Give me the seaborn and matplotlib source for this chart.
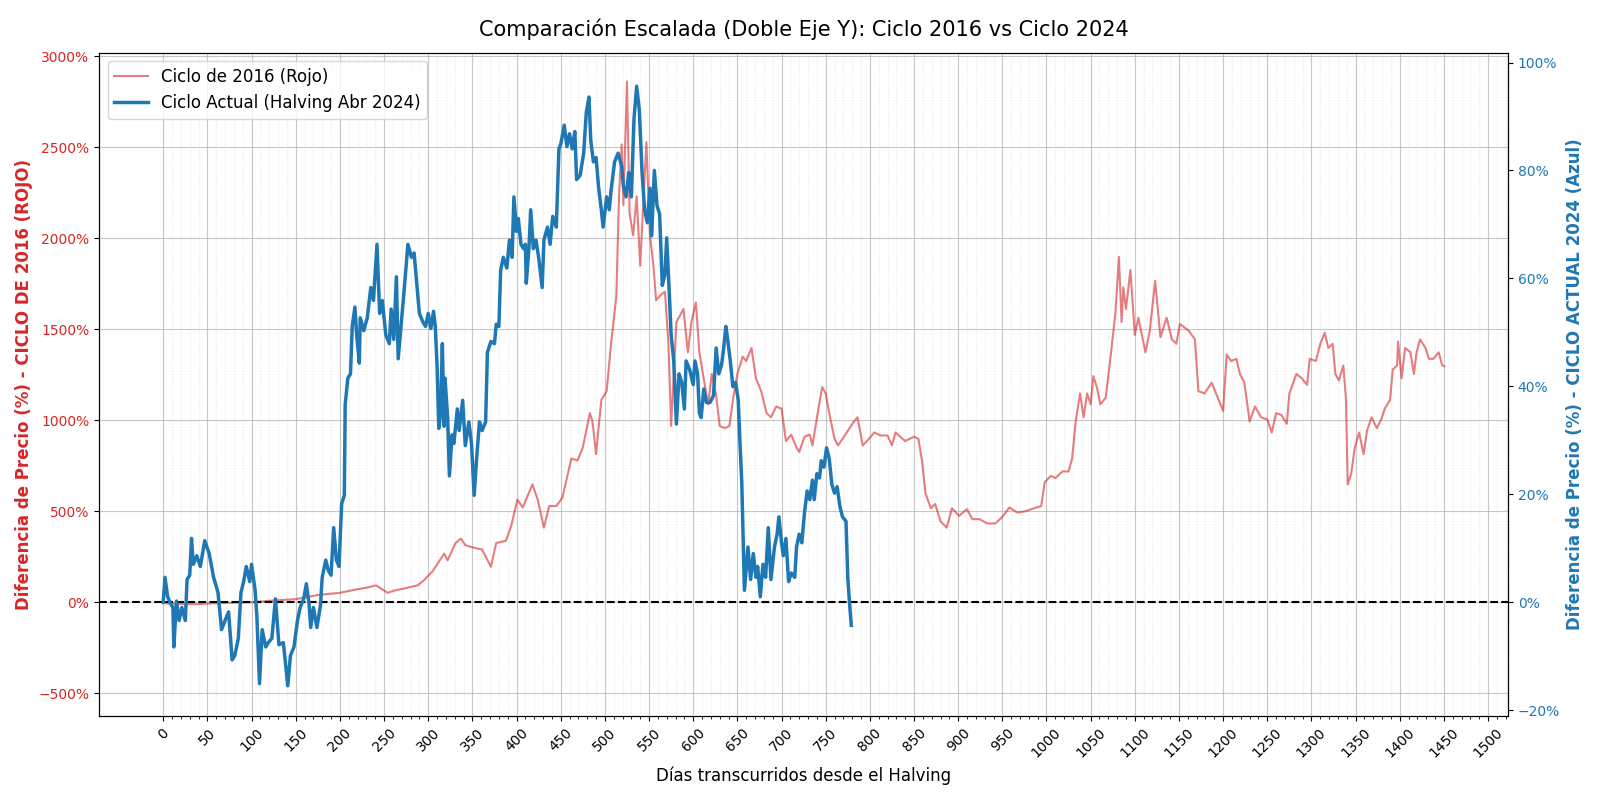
import matplotlib
matplotlib.use("Agg")
import matplotlib.pyplot as plt
import matplotlib.ticker as mtick
import seaborn as sns
import pandas as pd

# Ciclo 2016 (eje izquierdo)
dias_2016 = [0, 10, 25, 40, 50, 75, 100, 125, 150, 175, 200, 218, 230, 241, 254, 262, 273, 288, 295,
             305, 318, 322, 331, 337, 342, 350, 361, 371, 377, 388, 394, 401, 407, 418, 424, 431, 437,
             445, 452, 462, 469, 475, 483, 486, 490, 496, 502, 507, 513, 516, 519, 521, 525, 528, 532,
             536, 540, 543, 547, 551, 555, 558, 562, 568, 572, 575, 581, 589, 594, 598, 603, 607, 611,
             617, 621, 626, 630, 636, 641, 645, 650, 656, 660, 666, 671, 677, 683, 688, 694, 700, 705,
             711, 717, 720, 726, 732, 735, 741, 746, 750, 754, 760, 764, 769, 777, 782, 786, 792, 799,
             805, 812, 820, 825, 829, 840, 850, 855, 859, 863, 869, 874, 880, 887, 893, 901, 910, 916,
             924, 933, 942, 950, 958, 967, 976, 986, 994, 998, 1005, 1010, 1018, 1025, 1029, 1033, 1038,
             1042, 1046, 1050, 1053, 1057, 1061, 1067, 1072, 1078, 1082, 1085, 1087, 1090, 1095, 1100,
             1104, 1112, 1117, 1123, 1129, 1136, 1142, 1147, 1151, 1161, 1168, 1172, 1179, 1187, 1194,
             1200, 1204, 1209, 1215, 1219, 1224, 1230, 1236, 1243, 1250, 1255, 1260, 1266, 1272, 1275,
             1283, 1289, 1295, 1298, 1305, 1310, 1315, 1319, 1324, 1327, 1331, 1336, 1339, 1341, 1345,
             1349, 1354, 1359, 1363, 1368, 1374, 1379, 1383, 1389, 1392, 1397, 1398, 1402, 1406, 1412,
             1416, 1419, 1423, 1429, 1433, 1438, 1444, 1448, 1450]
precio_2016 = [-5, -8, -10, -10, -7, -3, 0, 10, 17, 40, 52, 70, 80, 93, 52, 65, 76, 93, 120,
               171, 267, 231, 326, 350, 314, 302, 290, 195, 326, 338, 421, 564, 521, 648, 564, 410, 529,
               529, 576, 790, 779, 850, 1040, 993, 814, 1112, 1160, 1421, 1683, 2231, 2517, 2183, 2862,
               2136, 2017, 2231, 1850, 2136, 2529, 2017, 1850, 1660, 1683, 1707, 1421, 969, 1540, 1612,
               1374, 1540, 1648, 1374, 1255, 1088, 1255, 1136, 969, 957, 969, 1112, 1255, 1350, 1326,
               1398, 1231, 1160, 1040, 1017, 1076, 1064, 886, 921, 850, 826, 910, 921, 862, 1040, 1183,
               1148, 1040, 898, 862, 898, 957, 993, 1017, 862, 898, 933, 917, 917, 862, 933, 886, 910,
               898, 779, 600, 517, 540, 445, 410, 517, 475, 512, 457, 457, 433, 433, 469, 521, 493, 500,
               517, 529, 660, 695, 683, 719, 719, 790, 993, 1148, 1017, 1148, 1088, 1243, 1183, 1088,
               1124, 1326, 1588, 1898, 1540, 1731, 1612, 1826, 1469, 1564, 1374, 1493, 1767, 1457, 1564,
               1445, 1421, 1529, 1493, 1445, 1160, 1148, 1207, 1124, 1052, 1362, 1326, 1338, 1255, 1207,
               993, 1076, 1017, 1005, 933, 1040, 1029, 981, 1148, 1255, 1231, 1195, 1338, 1326, 1421,
               1481, 1398, 1421, 1255, 1219, 1302, 1124, 648, 707, 850, 933, 814, 945, 1017, 957, 1005,
               1064, 1112, 1279, 1302, 1433, 1231, 1398, 1374, 1255, 1374, 1445, 1398, 1338, 1338, 1374,
               1302, 1298]

# Ciclo actual 2024 (eje derecho)
dias_2024 = [0, 2, 5, 8, 11, 12, 15, 18, 21, 25, 27, 30, 32, 34, 38, 42, 47, 52, 57, 62, 66, 70, 74,
             78, 81, 85, 88, 91, 94, 98, 100, 104, 106, 109, 112, 116, 119, 123, 127, 131, 136, 141,
             144, 148, 152, 155, 159, 162, 165, 167, 170, 174, 178, 180, 184, 187, 190, 193, 196, 199,
             202, 205, 206, 209, 212, 214, 217, 219, 222, 223, 227, 231, 235, 238, 242, 245, 248, 252,
             256, 258, 261, 264, 266, 270, 273, 277, 281, 284, 287, 290, 294, 297, 300, 303, 306, 308,
             310, 312, 314, 316, 318, 319, 322, 324, 327, 329, 333, 335, 339, 342, 346, 349, 352, 355,
             358, 361, 365, 367, 371, 375, 377, 380, 382, 385, 389, 392, 395, 397, 400, 402, 405, 408,
             410, 411, 414, 416, 419, 422, 425, 429, 431, 435, 438, 441, 445, 448, 450, 454, 457, 460,
             463, 466, 468, 472, 476, 479, 482, 484, 487, 490, 493, 496, 498, 502, 505, 507, 511, 515,
             519, 521, 524, 527, 530, 533, 536, 539, 542, 545, 548, 551, 553, 556, 559, 562, 565, 568,
             570, 573, 575, 578, 581, 584, 587, 590, 592, 596, 600, 602, 605, 607, 609, 612, 615, 619,
             623, 626, 629, 632, 634, 637, 639, 642, 645, 648, 651, 653, 655, 656, 658, 662, 665, 668,
             671, 673, 676, 679, 682, 685, 688, 692, 695, 697, 700, 702, 705, 708, 711, 715, 717, 720,
             723, 726, 729, 732, 735, 737, 740, 743, 745, 748, 751, 754, 757, 760, 763, 766, 769, 773,
             775, 777, 779]
precio_2024 = [0, 4.6, 1.0, -0.2, -1.0, -8.3, 0.2, -3.4, -1.0, -3.4, 4.2, 5.0, 11.8, 7.0, 8.6, 6.6,
               11.4, 9.0, 4.6, 1.8, -5.1, -3.4, -1.8, -10.7, -9.9, -6.7, 1.8, 3.8, 6.6, 3.8, 7.0, 2.2,
               -2.6, -15.1, -5.1, -8.3, -7.5, -6.7, 0.6, -7.9, -7.5, -15.5, -9.9, -8.3, -3.4, -1.0, 0.6,
               3.4, -0.2, -4.7, -1.0, -4.7, -0.6, 4.6, 7.8, 5.8, 5.0, 13.8, 7.8, 6.6, 18.2, 19.8, 36.6,
               41.5, 42.3, 51.1, 54.7, 49.5, 44.3, 52.7, 50.3, 52.7, 58.3, 55.9, 66.3, 53.5, 55.9, 49.5,
               47.9, 54.3, 48.7, 60.3, 45.1, 52.7, 58.3, 66.3, 63.9, 64.7, 59.1, 53.5, 51.9, 51.1, 53.5,
               50.7, 53.9, 51.1, 43.9, 32.2, 35.0, 47.9, 32.6, 41.5, 34.2, 23.4, 31.0, 29.4, 35.8, 31.8,
               37.4, 29.0, 33.4, 29.4, 19.8, 27.0, 33.4, 31.8, 33.4, 46.3, 48.3, 47.9, 51.5, 51.1, 61.5,
               63.9, 61.9, 67.1, 63.9, 75.1, 68.7, 71.1, 66.3, 65.5, 66.3, 59.1, 65.5, 72.7, 65.5, 67.1,
               63.9, 58.3, 67.1, 69.5, 66.3, 71.5, 69.5, 84.0, 84.8, 88.4, 84.4, 86.8, 84.0, 87.2, 78.3,
               79.1, 83.2, 90.8, 93.6, 85.6, 81.6, 82.4, 76.7, 72.7, 69.5, 75.1, 72.7, 76.3, 81.6, 83.2,
               80.8, 77.1, 75.1, 79.6, 75.1, 89.6, 95.6, 91.2, 80.0, 72.7, 70.3, 76.7, 67.9, 80.0, 73.5,
               71.9, 58.7, 60.7, 67.5, 57.1, 49.5, 44.7, 33.0, 42.3, 40.7, 35.8, 44.7, 43.1, 40.3, 44.7,
               42.3, 35.0, 34.2, 39.5, 37.0, 37.0, 38.3, 47.1, 42.3, 43.9, 46.3, 51.1, 48.7, 44.7, 39.9,
               40.7, 37.4, 29.4, 22.2, 15.8, 2.2, 10.2, 4.2, 9.0, 4.6, 6.6, 1.0, 7.0, 4.6, 13.8, 4.2,
               10.2, 12.6, 15.8, 11.0, 8.6, 11.8, 3.8, 5.4, 4.6, 10.2, 12.6, 11.0, 16.6, 20.6, 19.0, 22.6,
               19.0, 23.8, 23.0, 26.2, 25.0, 28.6, 26.6, 21.8, 20.2, 21.4, 17.8, 15.8, 15.0, 4.6, -0.2,
               -4.3]

df_2016 = pd.DataFrame({"dia": dias_2016, "pct": precio_2016})
df_2024 = pd.DataFrame({"dia": dias_2024, "pct": precio_2024})

fig, ax1 = plt.subplots(figsize=(16, 8), dpi=100)
ax2 = ax1.twinx()

sns.lineplot(data=df_2016, x="dia", y="pct", ax=ax1, color="tab:red", alpha=0.6,
             linewidth=1.5, label="Ciclo de 2016 (Rojo)")
sns.lineplot(data=df_2024, x="dia", y="pct", ax=ax2, color="tab:blue",
             linewidth=2.5, label="Ciclo Actual (Halving Abr 2024)")

ax1.axhline(0, color="black", linestyle="--", linewidth=1.5)

# ejes con el cero alineado
ax1.set_ylim(-625, 3020)
ax2.set_ylim(-21.1, 101.8)
ax1.set_xlim(-72.5, 1522.5)

ax1.set_xticks(range(0, 1501, 50))
ax1.set_xticks(range(0, 1521, 10), minor=True)
ax1.tick_params(axis="x", labelrotation=45)
ax1.yaxis.set_major_formatter(mtick.PercentFormatter(decimals=0))
ax2.yaxis.set_major_formatter(mtick.PercentFormatter(decimals=0))
ax1.tick_params(axis="y", labelcolor="tab:red")
ax2.tick_params(axis="y", labelcolor="tab:blue")

ax1.grid(True, which="major", alpha=0.7)
ax1.grid(True, which="minor", axis="x", linestyle=":", alpha=0.3)

ax1.set_xlabel("Días transcurridos desde el Halving", fontsize=12)
ax1.set_ylabel("Diferencia de Precio (%) - CICLO DE 2016 (ROJO)", color="tab:red",
               fontsize=12, fontweight="bold")
ax2.set_ylabel("Diferencia de Precio (%) - CICLO ACTUAL 2024 (Azul)", color="tab:blue",
               fontsize=12, fontweight="bold")
ax1.set_title("Comparación Escalada (Doble Eje Y): Ciclo 2016 vs Ciclo 2024", fontsize=15, pad=12)

h1, l1 = ax1.get_legend_handles_labels()
h2, l2 = ax2.get_legend_handles_labels()
ax1.get_legend().remove()
ax2.legend(h1 + h2, l1 + l2, loc="upper left", fontsize=12)

plt.subplots_adjust(left=0.062, right=0.9425, top=0.934, bottom=0.105)
plt.savefig("out.png", dpi=100)
plt.close()
